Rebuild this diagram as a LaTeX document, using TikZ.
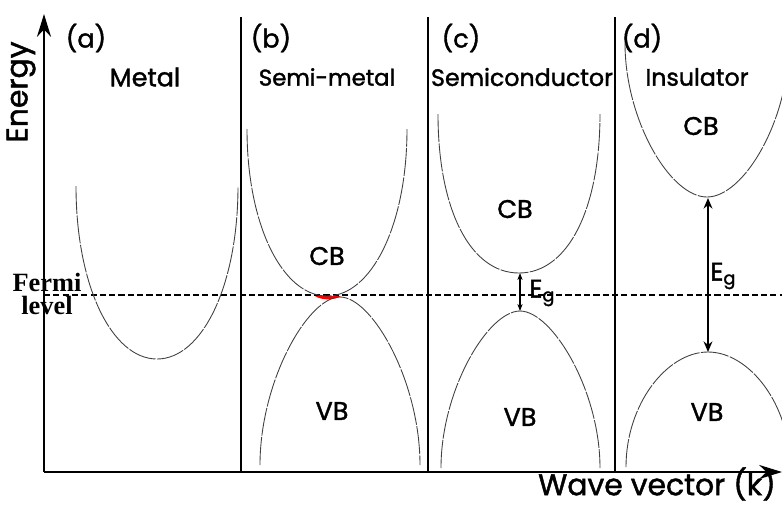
\documentclass[tikz,border=0pt]{standalone}
\usepackage{fontspec}
\setmainfont{Poppins}[UprightFeatures={FakeBold=1.5}]
\newfontfamily\fermifont{Liberation Serif}
\usetikzlibrary{arrows.meta}
\tikzset{
  axisline/.style={line width=1.2pt, -{Stealth[length=13pt, width=8pt]}},
  divider/.style={line width=0.9pt},
  fermiline/.style={line width=0.9pt, dash pattern=on 3.5pt off 1.8pt},
  bandcurve/.style={line width=0.5pt, black!75, dash pattern=on 16pt off 0.8pt},
  smallgap/.style={line width=0.6pt, {Stealth[length=4pt, width=3pt]}-{Stealth[length=4pt, width=3pt]}},
  biggap/.style={line width=1.1pt, {Stealth[length=6pt, width=5pt]}-{Stealth[length=6pt, width=5pt]}},
  bigtext/.style={font=\fontsize{14.5}{16}\selectfont, inner sep=0pt},
  axistext/.style={font=\fontsize{17}{19}\selectfont, inner sep=0pt},
  fermilabel/.style={font=\fermifont\bfseries\fontsize{15}{13}\selectfont, align=center, inner sep=0pt}
}

\begin{document}
\begin{tikzpicture}[x=0.02cm, y=-0.02cm]
  \clip (0,0) rectangle (782,505);

  % axes
  \coordinate (origin) at (44,472);
  \coordinate (etop) at (44,14);
  \coordinate (kend) at (782,472);
  \draw[axisline] (origin) -- (etop);
  \draw[axisline] (origin) -- (kend);
  \node[axistext, rotate=90] (energy) at (21,92) {Energy};
  \node[axistext] (wave) at (657,484) {Wave vector (k)};

  % panels
  \foreach \x in {241,428,615}
    \draw[divider] (\x,17) -- (\x,472);

  % Fermi level
  \coordinate (fl) at (44,295);
  \coordinate (fr) at (782,295);
  \draw[fermiline] (fl) -- (fr);
  \node[fermilabel] (fermi) at (47,294) {Fermi\\level};

  % (a) metal
  \node[bigtext] (lab-a) at (86,38) {(a)};
  \node[bigtext] (metal) at (145,77) {Metal};
  \draw[bandcurve] (76,186) .. controls (76,286) and (112,359) .. (157,359)
    .. controls (202,359) and (238,286) .. (238,186);

  % (b) semi-metal
  \node[bigtext] (lab-b) at (271,38) {(b)};
  \node[bigtext, font=\fontsize{13}{15}\selectfont] (semimetal) at (327,77) {Semi-metal};
  \fill[red] (315,296) .. controls (322,300.5) and (334,300.5) .. (341,296) -- cycle;
  \draw[bandcurve] (247,129) .. controls (247,226) and (283,296) .. (327,296)
    .. controls (371,296) and (407,226) .. (407,129);
  \draw[bandcurve] (260,465) .. controls (260,381) and (308,297) .. (340,297)
    .. controls (372,297) and (420,381) .. (420,465);
  \node[bigtext] (cb-b) at (327,256) {CB};
  \node[bigtext] (vb-b) at (332,411) {VB};

  % (c) semiconductor
  \node[bigtext] (lab-c) at (461,38) {(c)};
  \node[bigtext, font=\fontsize{13.5}{15}\selectfont] (semicond) at (522,77) {Semiconductor};
  \draw[bandcurve] (438,114) .. controls (438,209) and (470,273) .. (519,273)
    .. controls (568,273) and (600,209) .. (600,114);
  \draw[bandcurve] (441,468) .. controls (441,390) and (488,311) .. (520,311)
    .. controls (552,311) and (600,390) .. (600,468);
  \node[bigtext] (cb-c) at (515,209) {CB};
  \node[bigtext] (vb-c) at (520,417) {VB};
  \coordinate (cbmin-c) at (520,273);
  \coordinate (vbmax-c) at (520,311);
  \draw[smallgap] (cbmin-c) -- (vbmax-c);
  \node[bigtext, anchor=west] (eg-c) at (529,293) {E\textsubscript{g}};

  % (d) insulator
  \node[bigtext] (lab-d) at (642,38) {(d)};
  \node[bigtext, font=\fontsize{13.5}{15}\selectfont] (insulator) at (697,77) {Insulator};
  \draw[bandcurve] (625,43) .. controls (625,120) and (670,197) .. (707,197)
    .. controls (744,197) and (789,120) .. (789,43);
  \draw[bandcurve] (626,467) .. controls (626,404) and (667,352) .. (708,352)
    .. controls (749,352) and (790,404) .. (790,467);
  \node[bigtext] (cb-d) at (701,126) {CB};
  \node[bigtext] (vb-d) at (707,412) {VB};
  \coordinate (cbmin-d) at (708,198);
  \coordinate (vbmax-d) at (708,352);
  \draw[biggap] (cbmin-d) -- (vbmax-d);
  \node[bigtext, anchor=west] (eg-d) at (710,276) {E\textsubscript{g}};
\end{tikzpicture}
\end{document}
